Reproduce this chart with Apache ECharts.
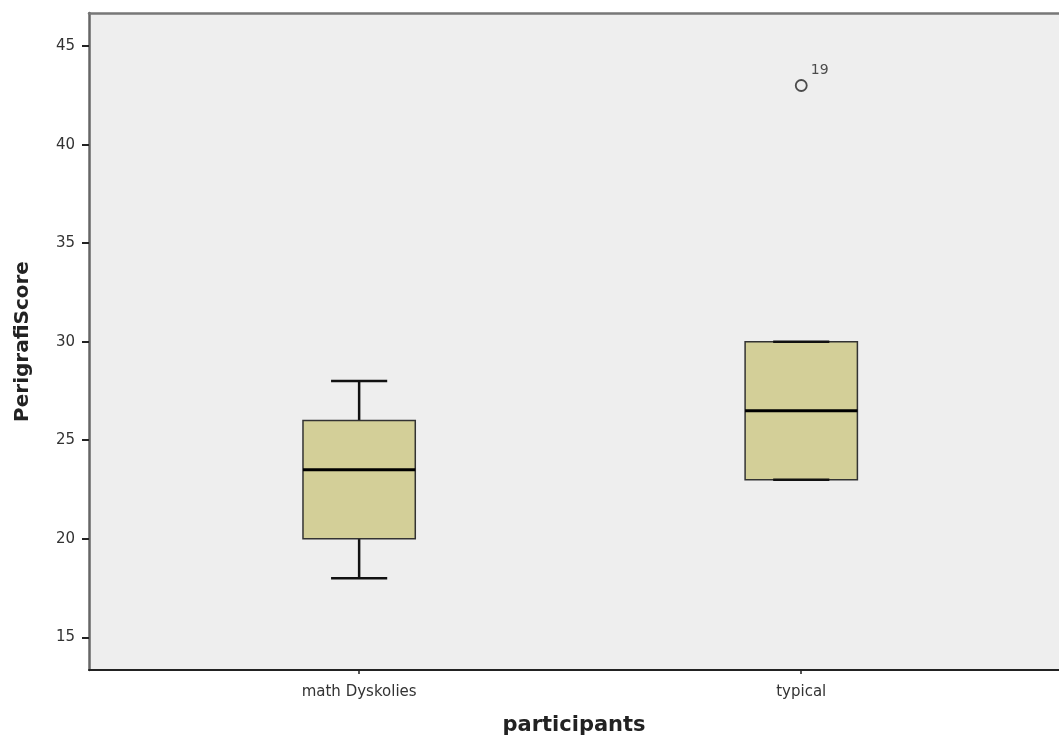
<!DOCTYPE html>
<html>
<head>
<meta charset="utf-8">
<script src="https://cdn.jsdelivr.net/npm/echarts@6/dist/echarts.min.js"></script>
<style>html,body{margin:0;padding:0;background:#fff;}#c{width:1059px;height:735px;}</style>
</head>
<body>
<div id="c"></div>
<script>
const categories = ['math Dyskolies', 'typical'];
const lowerWhisker = [18, 23];
const q1 = [20, 23];
const median = [23.5, 26.5];
const q3 = [26, 30];
const upperWhisker = [28, 30];
const outliers = [[1, 43, '19']];
const yTicks = [15, 20, 25, 30, 35, 40, 45];

const boxData = categories.map((c, i) => [i, lowerWhisker[i], q1[i], median[i], q3[i], upperWhisker[i]]);
const BOX_HALF = 0.127;
const X_MIN = -0.611, X_MAX = 1.583;

const chart = echarts.init(document.getElementById('c'), null, {renderer: 'canvas'});
chart.setOption({
  animation: false,
  textStyle: {fontFamily: 'DejaVu Sans'},
  grid: {left: 89, top: 13, right: 0, bottom: 65, outerBoundsMode: 'none', containLabel: false, show: true, backgroundColor: '#eeeeee', borderWidth: 0},
  xAxis: [{
    type: 'value', min: X_MIN, max: X_MAX,
    splitLine: {show: false},
    axisLine: {show: true, onZero: false, lineStyle: {color: '#222', width: 2}},
    axisTick: {show: true, customValues: [0, 1], length: 4, lineStyle: {color: '#222', width: 1.5}},
    axisLabel: {customValues: [0, 1], formatter: v => categories[Math.round(v)], color: '#333', fontSize: 15, margin: 15, fontFamily: 'DejaVu Sans'},
    name: 'participants', nameLocation: 'middle', nameGap: 45,
    nameTextStyle: {fontSize: 21, fontWeight: 'bold', color: '#222', fontFamily: 'DejaVu Sans'}
  }, {
    type: 'value', position: 'top', min: X_MIN, max: X_MAX,
    splitLine: {show: false},
    axisLine: {show: true, onZero: false, lineStyle: {color: '#777', width: 2.5}},
    axisTick: {show: false},
    axisLabel: {show: false}
  }],
  yAxis: {
    type: 'value', min: 13.34, max: 46.68,
    splitLine: {show: false},
    axisLine: {show: true, onZero: false, lineStyle: {color: '#666', width: 2.5}},
    axisTick: {show: true, customValues: yTicks, length: 7, lineStyle: {color: '#222', width: 2}},
    axisLabel: {customValues: yTicks, color: '#333', fontSize: 15, margin: 14, fontFamily: 'DejaVu Sans'},
    name: 'PerigrafiScore', nameLocation: 'middle', nameGap: 56,
    nameTextStyle: {fontSize: 20, fontWeight: 'bold', color: '#222', fontFamily: 'DejaVu Sans'}
  },
  series: [
    {
      type: 'custom',
      data: boxData,
      encode: {x: 0, y: [1, 2, 3, 4, 5]},
      renderItem: function (params, api) {
        const i = api.value(0);
        const lo = api.coord([i, api.value(1)]);
        const a = api.coord([i, api.value(2)]);
        const m = api.coord([i, api.value(3)]);
        const b = api.coord([i, api.value(4)]);
        const hi = api.coord([i, api.value(5)]);
        const hw = api.size([BOX_HALF, 0])[0];
        const cw = hw / 2;
        const cx = m[0];
        const blk = {stroke: '#111', lineWidth: 2.5};
        return {
          type: 'group',
          children: [
            {type: 'line', shape: {x1: cx, y1: b[1], x2: cx, y2: hi[1]}, style: blk},
            {type: 'line', shape: {x1: cx, y1: lo[1], x2: cx, y2: a[1]}, style: blk},
            {type: 'rect', shape: {x: cx - hw, y: b[1], width: 2 * hw, height: a[1] - b[1]}, style: {fill: '#d3cf98', stroke: '#333', lineWidth: 1.5}},
            {type: 'line', shape: {x1: cx - hw, y1: m[1], x2: cx + hw, y2: m[1]}, style: {stroke: '#000', lineWidth: 3}},
            {type: 'line', shape: {x1: cx - cw, y1: hi[1], x2: cx + cw, y2: hi[1]}, style: blk},
            {type: 'line', shape: {x1: cx - cw, y1: lo[1], x2: cx + cw, y2: lo[1]}, style: blk}
          ]
        };
      }
    },
    {
      type: 'scatter',
      data: outliers,
      symbol: 'circle',
      symbolSize: 11,
      itemStyle: {color: '#eeeeee', borderColor: '#222', borderWidth: 1.8},
      label: {show: true, formatter: p => p.data[2], position: [16, -16], color: '#222', fontSize: 14, fontFamily: 'DejaVu Sans'}
    }
  ]
});
</script>
</body>
</html>
